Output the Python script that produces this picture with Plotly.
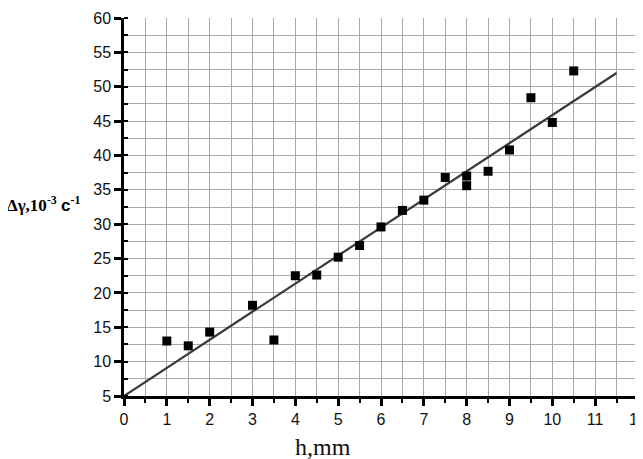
import plotly.graph_objects as go

h_mm = [1, 1.5, 2, 3, 3.5, 4, 4.5, 5, 5.5, 6, 6.5, 7, 7.5, 8, 8, 8.5, 9, 9.5, 10, 10.5]
dgamma = [13.0, 12.3, 14.3, 18.2, 13.15, 22.5, 22.6, 25.2, 26.9, 29.6, 32.0, 33.5, 36.8, 37.0, 35.6, 37.7, 40.8, 48.4, 44.8, 52.3]

fit_x = [0, 11.5]
fit_y = [5.0, 52.0]

x_ticks = list(range(0, 13))
y_ticks = list(range(5, 61, 5))

fig = go.Figure()
fig.add_trace(go.Scatter(x=fit_x, y=fit_y, mode="lines",
                         line=dict(color="#3a3a3a", width=2.2), showlegend=False))
fig.add_trace(go.Scatter(x=h_mm, y=dgamma, mode="markers",
                         marker=dict(symbol="square", size=9, color="black"),
                         showlegend=False))

grid_col = "#a8a8a8"
tickfont = dict(family="Arial, Liberation Sans, sans-serif", size=16, color="#111")
fig.update_xaxes(range=[0, 12], tickvals=x_ticks, ticktext=[str(v) for v in x_ticks],
                 automargin=False,
                 showline=True, linecolor="black", linewidth=2.5,
                 ticks="outside", ticklen=7, tickwidth=2.5, tickcolor="black",
                 showgrid=False, zeroline=False, tickfont=tickfont,
                 minor=dict(dtick=0.5, tick0=0, ticks="outside", ticklen=4, tickwidth=2,
                            tickcolor="black", showgrid=True, gridcolor=grid_col, gridwidth=1))
fig.update_yaxes(range=[5, 60], tickvals=y_ticks,
                 automargin=False,
                 showline=True, linecolor="black", linewidth=2.5,
                 ticks="outside", ticklen=7, tickwidth=2.5, tickcolor="black",
                 showgrid=False, zeroline=False, tickfont=tickfont,
                 minor=dict(dtick=2.5, tick0=5, ticks="inside", ticklen=4, tickwidth=2,
                            tickcolor="black", showgrid=True, gridcolor=grid_col, gridwidth=1))

fig.add_annotation(xref="paper", yref="paper", x=(323 - 123.5) / 515, y=-(447 - 396) / 378,
                   text="h,mm", showarrow=False, xanchor="center", yanchor="middle",
                   font=dict(family="Liberation Serif, Times New Roman, serif", size=24, color="#111"))
fig.add_annotation(xref="paper", yref="paper", x=(4 - 123.5) / 515, y=(396 - 204) / 378,
                   text="<b>Δγ,10<sup>-3</sup> <span style=\"font-family:Arial, Liberation Sans, sans-serif\">c</span><sup>-1</sup></b>",
                   showarrow=False, xanchor="left", yanchor="middle",
                   font=dict(family="Liberation Serif, Times New Roman, serif", size=17, color="#000"))

# page body adds an 8px offset; compensate so the plot area lands where the reference has it
fig.update_layout(width=643, height=459, plot_bgcolor="white", paper_bgcolor="white",
                  margin=dict(l=115.5, r=12.5, t=10, b=71, autoexpand=False))
fig.write_html("out.html")
